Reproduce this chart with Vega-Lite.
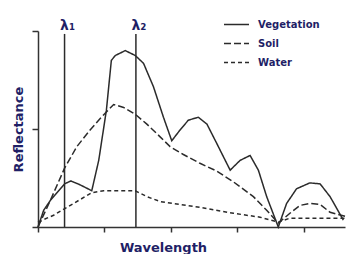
{
  "$schema": "https://vega.github.io/schema/vega-lite/v6.json",
  "width": 307,
  "height": 196,
  "autosize": "none",
  "padding": {"left": 38, "top": 31, "right": 2, "bottom": 27},
  "background": "white",
  "config": {"view": {"stroke": null}, "font": "DejaVu Sans"},
  "datasets": {
    "spectra": [
      {"material": "Vegetation", "wl": 0, "refl": 0},
      {"material": "Vegetation", "wl": 0.17, "refl": 0.17},
      {"material": "Vegetation", "wl": 0.37, "refl": 0.27},
      {"material": "Vegetation", "wl": 0.8, "refl": 0.44},
      {"material": "Vegetation", "wl": 0.99, "refl": 0.47},
      {"material": "Vegetation", "wl": 1.27, "refl": 0.43},
      {"material": "Vegetation", "wl": 1.62, "refl": 0.37},
      {"material": "Vegetation", "wl": 1.83, "refl": 0.68},
      {"material": "Vegetation", "wl": 2.06, "refl": 1.19},
      {"material": "Vegetation", "wl": 2.21, "refl": 1.7},
      {"material": "Vegetation", "wl": 2.33, "refl": 1.75},
      {"material": "Vegetation", "wl": 2.63, "refl": 1.8},
      {"material": "Vegetation", "wl": 2.93, "refl": 1.75},
      {"material": "Vegetation", "wl": 3.18, "refl": 1.67},
      {"material": "Vegetation", "wl": 3.48, "refl": 1.43},
      {"material": "Vegetation", "wl": 3.78, "refl": 1.12},
      {"material": "Vegetation", "wl": 4.03, "refl": 0.88},
      {"material": "Vegetation", "wl": 4.28, "refl": 0.99},
      {"material": "Vegetation", "wl": 4.53, "refl": 1.09},
      {"material": "Vegetation", "wl": 4.83, "refl": 1.12},
      {"material": "Vegetation", "wl": 5.09, "refl": 1.05},
      {"material": "Vegetation", "wl": 5.39, "refl": 0.85},
      {"material": "Vegetation", "wl": 5.79, "refl": 0.58},
      {"material": "Vegetation", "wl": 6.09, "refl": 0.68},
      {"material": "Vegetation", "wl": 6.39, "refl": 0.73},
      {"material": "Vegetation", "wl": 6.64, "refl": 0.58},
      {"material": "Vegetation", "wl": 6.89, "refl": 0.31},
      {"material": "Vegetation", "wl": 7.24, "refl": 0.0},
      {"material": "Vegetation", "wl": 7.49, "refl": 0.24},
      {"material": "Vegetation", "wl": 7.79, "refl": 0.39},
      {"material": "Vegetation", "wl": 8.19, "refl": 0.45},
      {"material": "Vegetation", "wl": 8.5, "refl": 0.44},
      {"material": "Vegetation", "wl": 8.8, "refl": 0.31},
      {"material": "Vegetation", "wl": 9.0, "refl": 0.19},
      {"material": "Vegetation", "wl": 9.2, "refl": 0.07},
      {"material": "Soil", "wl": 0, "refl": 0},
      {"material": "Soil", "wl": 0.37, "refl": 0.27},
      {"material": "Soil", "wl": 0.8, "refl": 0.6},
      {"material": "Soil", "wl": 1.17, "refl": 0.82},
      {"material": "Soil", "wl": 1.57, "refl": 0.99},
      {"material": "Soil", "wl": 1.88, "refl": 1.11},
      {"material": "Soil", "wl": 2.28, "refl": 1.25},
      {"material": "Soil", "wl": 2.58, "refl": 1.22},
      {"material": "Soil", "wl": 2.93, "refl": 1.15},
      {"material": "Soil", "wl": 3.28, "refl": 1.05},
      {"material": "Soil", "wl": 3.68, "refl": 0.92},
      {"material": "Soil", "wl": 3.98, "refl": 0.82},
      {"material": "Soil", "wl": 4.38, "refl": 0.74},
      {"material": "Soil", "wl": 4.88, "refl": 0.65},
      {"material": "Soil", "wl": 5.39, "refl": 0.57},
      {"material": "Soil", "wl": 5.89, "refl": 0.46},
      {"material": "Soil", "wl": 6.49, "refl": 0.31},
      {"material": "Soil", "wl": 6.89, "refl": 0.17},
      {"material": "Soil", "wl": 7.24, "refl": 0.04},
      {"material": "Soil", "wl": 7.59, "refl": 0.14},
      {"material": "Soil", "wl": 7.89, "refl": 0.22},
      {"material": "Soil", "wl": 8.19, "refl": 0.24},
      {"material": "Soil", "wl": 8.5, "refl": 0.23},
      {"material": "Soil", "wl": 8.8, "refl": 0.15},
      {"material": "Soil", "wl": 9.25, "refl": 0.11},
      {"material": "Water", "wl": 0, "refl": 0.05},
      {"material": "Water", "wl": 0.47, "refl": 0.12},
      {"material": "Water", "wl": 0.87, "refl": 0.2},
      {"material": "Water", "wl": 1.27, "refl": 0.28},
      {"material": "Water", "wl": 1.62, "refl": 0.35},
      {"material": "Water", "wl": 1.98, "refl": 0.37},
      {"material": "Water", "wl": 2.93, "refl": 0.37},
      {"material": "Water", "wl": 3.28, "refl": 0.31},
      {"material": "Water", "wl": 3.68, "refl": 0.26},
      {"material": "Water", "wl": 4.08, "refl": 0.24},
      {"material": "Water", "wl": 4.88, "refl": 0.2},
      {"material": "Water", "wl": 5.89, "refl": 0.14},
      {"material": "Water", "wl": 6.69, "refl": 0.1},
      {"material": "Water", "wl": 7.24, "refl": 0.05},
      {"material": "Water", "wl": 7.59, "refl": 0.09},
      {"material": "Water", "wl": 9.25, "refl": 0.09}
    ],
    "bands": [
      {"label": "λ₁", "wl": 0.8},
      {"label": "λ₂", "wl": 2.95}
    ]
  },
  "layer": [
    {
      "data": {"name": "spectra"},
      "mark": {"type": "line", "strokeWidth": 1.5, "color": "#2b2b2b", "clip": false},
      "encoding": {
        "x": {
          "field": "wl", "type": "quantitative",
          "scale": {"domain": [0, 9.25], "nice": false, "zero": false},
          "axis": {
            "values": [0, 1, 2, 3, 4, 5, 6, 7, 8, 9],
            "labels": false, "grid": false,
            "title": "Wavelength", "titleFontSize": 13, "titleFontWeight": "bold",
            "titleColor": "#1f1f66", "titlePadding": 9, "titleX": 125,
            "tickSize": 5, "tickColor": "#333333", "tickWidth": 1.5,
            "domainColor": "#333333", "domainWidth": 1.5
          }
        },
        "y": {
          "field": "refl", "type": "quantitative",
          "scale": {"domain": [0, 2], "nice": false},
          "axis": {
            "values": [0, 1, 2],
            "labels": false, "grid": false,
            "title": "Reflectance", "titleFontSize": 13, "titleFontWeight": "bold",
            "titleColor": "#1f1f66", "titlePadding": 6,
            "tickSize": 6, "tickColor": "#333333", "tickWidth": 1.5,
            "domainColor": "#333333", "domainWidth": 1.5
          }
        },
        "detail": {"field": "material"},
        "strokeDash": {
          "field": "material", "type": "nominal",
          "scale": {"domain": ["Vegetation", "Soil", "Water"], "range": [[1, 0], [7, 3], [4, 3]]},
          "legend": {
            "title": null, "orient": "none", "legendX": 185, "legendY": -20,
            "symbolType": "stroke", "symbolSize": 625, "symbolStrokeWidth": 1.5,
            "symbolStrokeColor": "#2b2b2b",
            "labelFontSize": 10, "labelFontWeight": "bold", "labelColor": "#1f1f66",
            "rowPadding": -7, "labelOffset": 8
          }
        }
      }
    },
    {
      "data": {"name": "bands"},
      "mark": {"type": "rule", "strokeWidth": 1.5, "color": "#2b2b2b"},
      "encoding": {
        "x": {"field": "wl", "type": "quantitative"},
        "y": {"datum": 0},
        "y2": {"datum": 1.97}
      }
    },
    {
      "data": {"name": "bands"},
      "mark": {"type": "text", "fontSize": 14, "fontWeight": "bold", "color": "#1f1f66", "align": "center", "baseline": "bottom", "dx": 3},
      "encoding": {
        "x": {"field": "wl", "type": "quantitative"},
        "y": {"datum": 1.98},
        "text": {"field": "label"}
      }
    }
  ]
}
